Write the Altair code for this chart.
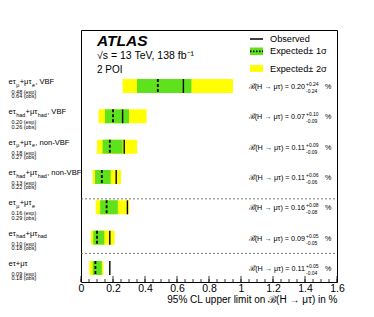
import altair as alt
import pandas as pd

FONT = "Liberation Sans"

# ---- data ----
rows = [0, 1, 2, 3, 4, 5, 6]
label_segments = [
    [("eτ", 0), ("μ", 1), ("+μτ", 0), ("e", 1), (", VBF", 0)],
    [("eτ", 0), ("had", 1), ("+μτ", 0), ("had", 1), (", VBF", 0)],
    [("eτ", 0), ("μ", 1), ("+μτ", 0), ("e", 1), (", non-VBF", 0)],
    [("eτ", 0), ("had", 1), ("+μτ", 0), ("had", 1), (", non-VBF", 0)],
    [("eτ", 0), ("μ", 1), ("+μτ", 0), ("e", 1)],
    [("eτ", 0), ("had", 1), ("+μτ", 0), ("had", 1)],
    [("eτ+μτ", 0)],
]
exp_lim = [0.48, 0.20, 0.18, 0.13, 0.16, 0.10, 0.09]
obs_lim = [0.64, 0.26, 0.27, 0.22, 0.29, 0.18, 0.18]
lo2 = [0.26, 0.11, 0.10, 0.073, 0.092, 0.062, 0.052]
hi2 = [0.95, 0.41, 0.35, 0.25, 0.30, 0.21, 0.14]
lo1 = [0.35, 0.15, 0.135, 0.088, 0.12, 0.077, 0.073]
hi1 = [0.69, 0.30, 0.26, 0.185, 0.23, 0.146, 0.13]
bf_val = ["0.20", "0.07", "0.11", "0.11", "0.16", "0.09", "0.11"]
bf_up = ["+0.24", "+0.10", "+0.09", "+0.06", "+0.08", "+0.05", "+0.05"]
bf_dn = ["-0.24", "-0.09", "-0.09", "-0.06", "-0.08", "-0.05", "-0.04"]
separators = [3.72, 5.52]
x_major = [0, 0.2, 0.4, 0.6, 0.8, 1.0, 1.2, 1.4, 1.6]
x_minor = [round(0.05 * i, 2) for i in range(33)]

W, H = 256, 252
PX = 1.6 / W  # data units per pixel (for text placement)

GREEN = "#5fe21e"
YELLOW = "#ffff00"
TITLE = "95% CL upper limit on ℬ(H → μτ) in %"

xscale = alt.Scale(domain=[0, 1.6], nice=False, zero=False)
yscale = alt.Scale(domain=[-1.846, 6.462], reverse=True, nice=False, zero=False)
xaxis = alt.Axis(values=x_major, format="~g", labelFont=FONT, labelFontSize=10.5,
                 labelColor="black", labelFlush=False, labelPadding=1,
                 ticks=False, domain=False, grid=False, title=TITLE,
                 titleFont=FONT, titleFontSize=10, titleFontWeight="normal",
                 titleColor="black", titleAnchor="end", titlePadding=1)


def X(f):
    return alt.X(f, type="quantitative", scale=xscale, axis=xaxis)


def Y(f):
    return alt.Y(f, type="quantitative", scale=yscale, axis=None)


df = pd.DataFrame({"pos": rows, "lo2": lo2, "hi2": hi2, "lo1": lo1, "hi1": hi1,
                   "exp": exp_lim, "obs": obs_lim,
                   "bf": [f"ℬ̂(H → μτ) = {v}" for v in bf_val],
                   "up": bf_up, "dn": bf_dn,
                   "explab": [f"{v:.2f} (exp)" for v in exp_lim],
                   "obslab": [f"{v:.2f} (obs)" for v in obs_lim]})
df["xr"] = 1.40
df["xs"] = 1.406
df["xp"] = 1.525
df["xl"] = -69.5 * PX

base = alt.Chart(df).transform_calculate(y0="datum.pos - 0.23", y1="datum.pos + 0.23")

yellow = base.mark_rect(color=YELLOW).encode(x=X("lo2"), x2="hi2", y=Y("y0"), y2="y1")
green = base.mark_rect(color=GREEN).encode(x=X("lo1"), x2="hi1", y=Y("y0"), y2="y1")
expl = base.mark_rule(color="black", strokeWidth=1.8, strokeDash=[3, 2]).encode(
    x=X("exp"), y=Y("y0"), y2="y1")
obsl = base.mark_rule(color="black", strokeWidth=1.4).encode(
    x=X("obs"), y=Y("y0"), y2="y1")

bf_main = base.mark_text(font=FONT, fontSize=7.2, align="right", baseline="middle", dy=1,
                         color="black").encode(x=X("xr"), y=Y("pos"), text="bf:N")
bf_sup = base.mark_text(font=FONT, fontSize=5, align="left", baseline="middle", dy=-2,
                        color="black").encode(x=X("xs"), y=Y("pos"), text="up:N")
bf_sub = base.mark_text(font=FONT, fontSize=5, align="left", baseline="middle", dy=5,
                        color="black").encode(x=X("xs"), y=Y("pos"), text="dn:N")
bf_pct = base.mark_text(font=FONT, fontSize=7.2, align="left", baseline="middle", dy=1,
                        color="black").encode(x=X("xp"), y=Y("pos"), text=alt.value("%"))

exp_txt = base.mark_text(font=FONT, fontSize=5.5, align="left", baseline="middle", dy=6,
                         color="black").encode(x=X("xl"), y=Y("pos"), text="explab:N")
obs_txt = base.mark_text(font=FONT, fontSize=5.5, align="left", baseline="middle", dy=10.5,
                         color="black").encode(x=X("xl"), y=Y("pos"), text="obslab:N")

# left label segments with subscripts
CW = {"e": .556, "τ": .46, "μ": .576, "+": .584, ",": .278, " ": .278, "V": .667,
      "B": .667, "F": .611, "n": .556, "o": .556, "-": .333, "h": .556, "a": .556,
      "d": .556}
MAIN_FS, SUB_FS = 7.6, 5.4
seg_rows = []
for r, segs in zip(rows, label_segments):
    xpix = -72.5
    for text, sub in segs:
        fs = SUB_FS if sub else MAIN_FS
        seg_rows.append({"pos": r, "t": text, "sub": sub, "xd": xpix * PX})
        xpix += sum(CW.get(c, .55) for c in text) * fs + (0.3 if sub else 0)
segdf = pd.DataFrame(seg_rows)
seg_base = alt.Chart(segdf)
seg_main = seg_base.transform_filter("datum.sub == 0").mark_text(
    font=FONT, fontSize=MAIN_FS, align="left", baseline="middle", dy=-4, color="black"
).encode(x=X("xd"), y=Y("pos"), text="t:N")
seg_sub = seg_base.transform_filter("datum.sub == 1").mark_text(
    font=FONT, fontSize=SUB_FS, align="left", baseline="middle", dy=-1.4, color="black"
).encode(x=X("xd"), y=Y("pos"), text="t:N")

# separators
sep = alt.Chart(pd.DataFrame({"s": separators})).mark_rule(
    color="#555", strokeWidth=0.8, strokeDash=[2, 2]).encode(
    y=Y("s"), x=alt.value(0), x2=alt.value(W))

# inward ticks
maj = alt.Chart(pd.DataFrame({"t": x_major})).mark_rule(color="black", strokeWidth=0.8).encode(
    x=X("t"), y=alt.value(H), y2=alt.value(H - 6))
mnr = alt.Chart(pd.DataFrame({"t": x_minor})).mark_rule(color="black", strokeWidth=0.8).encode(
    x=X("t"), y=alt.value(H), y2=alt.value(H - 3))

one = pd.DataFrame({"a": [0]})


def txt(s, x, y, size, **kw):
    return alt.Chart(one).mark_text(font=FONT, fontSize=size, align="left",
                                    baseline="middle", color="black", **kw).encode(
        x=alt.value(x), y=alt.value(y), text=alt.value(s))


atlas = txt("ATLAS", 16, 10.5, 15.5, fontWeight="bold", fontStyle="italic")
energy = txt("√s = 13 TeV, 138 fb⁻¹", 16, 25.5, 10.5)
poi = txt("2 POI", 16, 40, 10)

leg_obs = alt.Chart(one).mark_rule(color="black", strokeWidth=1.5).encode(
    x=alt.value(169), x2=alt.value(182), y=alt.value(9))
leg_g = alt.Chart(one).mark_rect(color=GREEN).encode(
    x=alt.value(169), x2=alt.value(182), y=alt.value(17.5), y2=alt.value(25))
leg_gd = alt.Chart(one).mark_rule(color="black", strokeWidth=1.8, strokeDash=[1.5, 1.5]).encode(
    x=alt.value(169), x2=alt.value(182), y=alt.value(21.3))
leg_y = alt.Chart(one).mark_rect(color=YELLOW).encode(
    x=alt.value(169), x2=alt.value(182), y=alt.value(35), y2=alt.value(42))
leg_t1 = txt("Observed", 189, 9, 9.2)
leg_t2 = txt("Expected± 1σ", 189, 21.3, 9.2)
leg_t3 = txt("Expected± 2σ", 189, 38.5, 9.2)

chart = alt.layer(
    yellow, green, expl, obsl, sep, maj, mnr,
    bf_main, bf_sup, bf_sub, bf_pct, exp_txt, obs_txt, seg_main, seg_sub,
    atlas, energy, poi,
    leg_obs, leg_g, leg_gd, leg_y, leg_t1, leg_t2, leg_t3,
).properties(
    width=W, height=H,
    autosize=alt.AutoSizeParams(type="none"),
    padding={"left": 73, "top": 22, "right": 25, "bottom": 30},
).configure_view(stroke="black", strokeWidth=1)

chart.save("out.html", embed_options={"renderer": "svg", "actions": False})
